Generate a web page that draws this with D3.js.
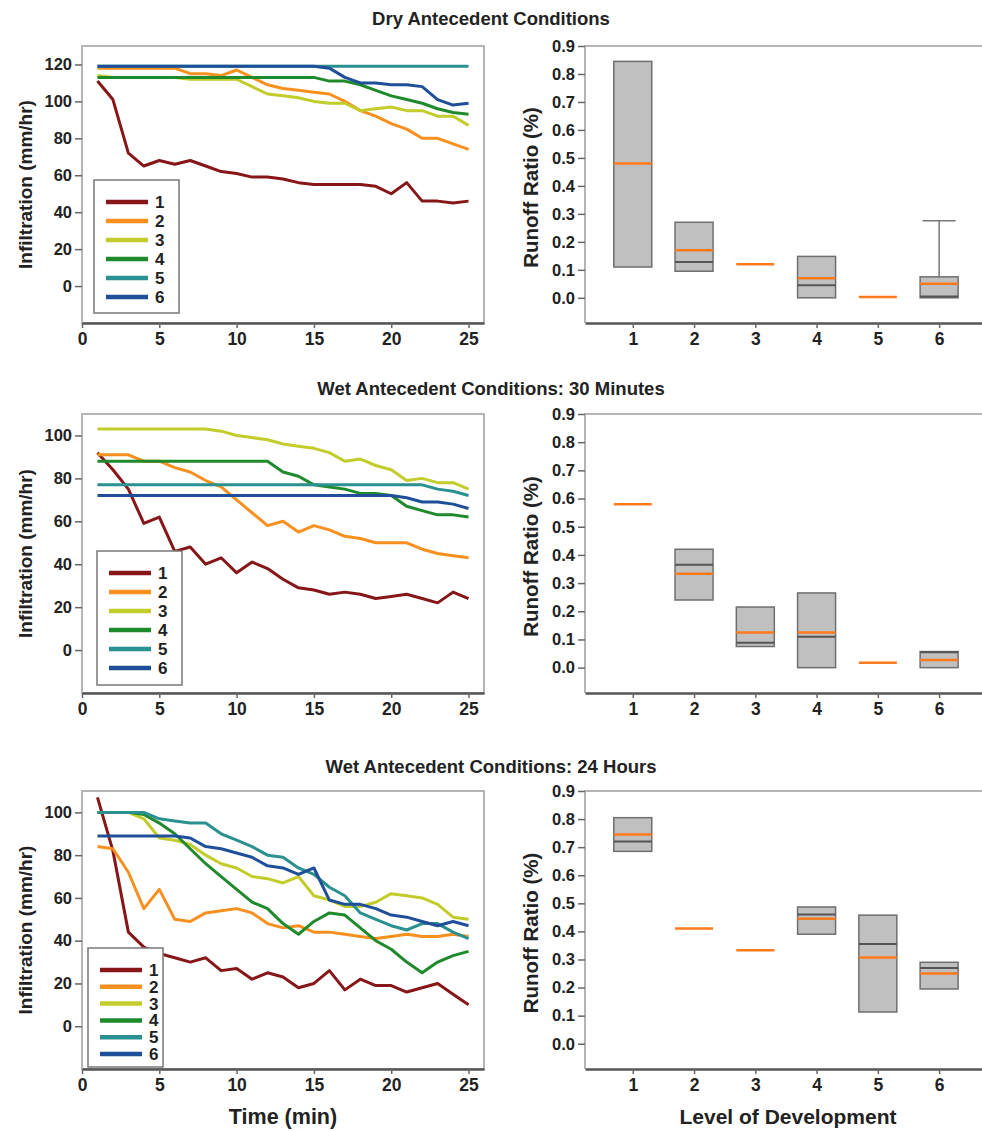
<!DOCTYPE html>
<html>
<head>
<meta charset="utf-8">
<script src="https://cdn.jsdelivr.net/npm/d3@7"></script>
<style>
  body { margin: 0; background: #fff; }
  text { font-family: "Liberation Sans", Arial, sans-serif; font-weight: bold; fill: #222; }
</style>
</head>
<body>
<div id="chart"></div>
<script>
// ---- data ----
const minutes = d3.range(1, 26);
const levels = [1, 2, 3, 4, 5, 6];
const seriesColors = ["#861618", "#f7901e", "#c2cc2a", "#1f8a2c", "#2a9090", "#1f4f98"];

// dry antecedent conditions, infiltration (mm/hr) per minute
const dry1 = [111, 101, 72, 65, 68, 66, 68, 65, 62, 61, 59, 59, 58, 56, 55, 55, 55, 55, 54, 50, 56, 46, 46, 45, 46];
const dry2 = [118, 118, 118, 118, 118, 118, 115, 115, 114, 117, 113, 109, 107, 106, 105, 104, 100, 95, 92, 88, 85, 80, 80, 77, 74];
const dry3 = [114, 113, 113, 113, 113, 113, 112, 112, 112, 112, 108, 104, 103, 102, 100, 99, 99, 95, 96, 97, 95, 95, 92, 92, 87];
const dry4 = [113, 113, 113, 113, 113, 113, 113, 113, 113, 113, 113, 113, 113, 113, 113, 111, 111, 109, 106, 103, 101, 99, 96, 94, 93];
const dry5 = [119, 119, 119, 119, 119, 119, 119, 119, 119, 119, 119, 119, 119, 119, 119, 119, 119, 119, 119, 119, 119, 119, 119, 119, 119];
const dry6 = [119, 119, 119, 119, 119, 119, 119, 119, 119, 119, 119, 119, 119, 119, 119, 118, 113, 110, 110, 109, 109, 108, 101, 98, 99];

// wet antecedent conditions: 30 minutes
const wet30_1 = [92, 84, 75, 59, 62, 46, 48, 40, 43, 36, 41, 38, 33, 29, 28, 26, 27, 26, 24, 25, 26, 24, 22, 27, 24];
const wet30_2 = [91, 91, 91, 88, 88, 85, 83, 79, 76, 70, 64, 58, 60, 55, 58, 56, 53, 52, 50, 50, 50, 47, 45, 44, 43];
const wet30_3 = [103, 103, 103, 103, 103, 103, 103, 103, 102, 100, 99, 98, 96, 95, 94, 92, 88, 89, 86, 84, 79, 80, 78, 78, 75];
const wet30_4 = [88, 88, 88, 88, 88, 88, 88, 88, 88, 88, 88, 88, 83, 81, 77, 76, 75, 73, 73, 72, 67, 65, 63, 63, 62];
const wet30_5 = [77, 77, 77, 77, 77, 77, 77, 77, 77, 77, 77, 77, 77, 77, 77, 77, 77, 77, 77, 77, 77, 77, 75, 74, 72];
const wet30_6 = [72, 72, 72, 72, 72, 72, 72, 72, 72, 72, 72, 72, 72, 72, 72, 72, 72, 72, 72, 72, 71, 69, 69, 68, 66];

// wet antecedent conditions: 24 hours
const wet24_1 = [107, 82, 44, 37, 34, 32, 30, 32, 26, 27, 22, 25, 23, 18, 20, 26, 17, 22, 19, 19, 16, 18, 20, 15, 10];
const wet24_2 = [84, 83, 72, 55, 64, 50, 49, 53, 54, 55, 53, 48, 46, 47, 44, 44, 43, 42, 41, 42, 43, 42, 42, 43, 42];
const wet24_3 = [100, 100, 100, 97, 88, 87, 85, 80, 76, 74, 70, 69, 67, 70, 61, 59, 56, 56, 58, 62, 61, 60, 57, 51, 50];
const wet24_4 = [100, 100, 100, 99, 95, 90, 83, 76, 70, 64, 58, 55, 48, 43, 49, 53, 52, 46, 40, 36, 30, 25, 30, 33, 35];
const wet24_5 = [100, 100, 100, 100, 97, 96, 95, 95, 90, 87, 84, 80, 79, 74, 71, 65, 61, 53, 50, 47, 45, 48, 48, 44, 41];
const wet24_6 = [89, 89, 89, 89, 89, 89, 88, 84, 83, 81, 79, 75, 74, 71, 74, 59, 57, 57, 55, 52, 51, 49, 47, 49, 47];

// runoff ratio box stats per level (null = no box drawn)
const dryBoxLow   = [0.11, 0.095, null, 0.0, null, 0.0];
const dryBoxHigh  = [0.845, 0.27, null, 0.148, null, 0.075];
const dryMedian   = [null, 0.128, null, 0.045, null, 0.005];
const dryMean     = [0.48, 0.17, 0.12, 0.07, 0.003, 0.05];
const dryWhisker  = [null, null, null, null, null, 0.275];

const wet30BoxLow  = [null, 0.24, 0.075, 0.0, null, 0.0];
const wet30BoxHigh = [null, 0.42, 0.215, 0.265, null, 0.057];
const wet30Median  = [null, 0.365, 0.088, 0.11, null, 0.055];
const wet30Mean    = [0.58, 0.333, 0.125, 0.125, 0.017, 0.027];

const wet24BoxLow  = [0.685, null, null, 0.39, 0.113, 0.195];
const wet24BoxHigh = [0.805, null, null, 0.487, 0.458, 0.29];
const wet24Median  = [0.72, null, null, 0.46, 0.355, 0.27];
const wet24Mean    = [0.745, 0.41, 0.333, 0.445, 0.307, 0.25];

const infilTicks = [0, 20, 40, 60, 80, 100, 120];
const ratioTicks = d3.range(0, 10).map(d => d / 10);
const timeTicks = [0, 5, 10, 15, 20, 25];

const rows = [
  { title: "Dry Antecedent Conditions", titleY: 25, top: 46, bottom: 323, yMax: 130,
    lines: [dry1, dry2, dry3, dry4, dry5, dry6], legend: { x: 94, y: 180, w: 85, h: 133, step: 19 },
    box: { low: dryBoxLow, high: dryBoxHigh, med: dryMedian, mean: dryMean, whisk: dryWhisker } },
  { title: "Wet Antecedent Conditions: 30 Minutes", titleY: 395, top: 414, bottom: 693, yMax: 110,
    lines: [wet30_1, wet30_2, wet30_3, wet30_4, wet30_5, wet30_6], legend: { x: 97, y: 551, w: 85, h: 134, step: 19 },
    box: { low: wet30BoxLow, high: wet30BoxHigh, med: wet30Median, mean: wet30Mean, whisk: null } },
  { title: "Wet Antecedent Conditions: 24 Hours", titleY: 773, top: 791, bottom: 1069, yMax: 110,
    lines: [wet24_1, wet24_2, wet24_3, wet24_4, wet24_5, wet24_6], legend: { x: 88, y: 948, w: 75, h: 119, step: 16.8 },
    box: { low: wet24BoxLow, high: wet24BoxHigh, med: wet24Median, mean: wet24Mean, whisk: null } }
];

const width = 982, height = 1131;
const lineLeft = 82, lineRight = 484;
const boxLeft = 585, boxRight = 982;

const svg = d3.select("#chart").append("svg")
  .attr("width", width)
  .attr("height", height);

rows.forEach((row, i) => {
  // title
  svg.append("text")
    .attr("x", 491).attr("y", row.titleY)
    .attr("text-anchor", "middle")
    .style("font-size", "18.5px")
    .text(row.title);

  // ---- infiltration lines ----
  const x = d3.scaleLinear().domain([0, 26]).range([lineLeft, lineRight]);
  const y = d3.scaleLinear().domain([-20, row.yMax]).range([row.bottom, row.top]);

  svg.append("rect")
    .attr("x", lineLeft).attr("y", row.top)
    .attr("width", lineRight - lineLeft).attr("height", row.bottom - row.top)
    .attr("fill", "none").attr("stroke", "#b5b5b5").attr("stroke-width", 2);

  const yAxis = svg.append("g")
    .attr("transform", `translate(${lineLeft},0)`)
    .call(d3.axisLeft(y).tickValues(infilTicks.filter(t => t <= row.yMax)).tickSize(7).tickPadding(3));
  yAxis.select(".domain").remove();

  const xAxis = svg.append("g")
    .attr("transform", `translate(0,${row.bottom})`)
    .call(d3.axisBottom(x).tickValues(timeTicks).tickSize(5).tickPadding(5).tickSizeOuter(0));

  const line = d3.line()
    .x((d, j) => x(minutes[j]))
    .y(d => y(d));

  row.lines.forEach((s, k) => {
    svg.append("path")
      .attr("d", line(s))
      .attr("fill", "none")
      .attr("stroke", seriesColors[k])
      .attr("stroke-width", 3)
      .attr("stroke-linejoin", "round");
  });

  // legend
  const lg = row.legend;
  svg.append("rect")
    .attr("x", lg.x).attr("y", lg.y).attr("width", lg.w).attr("height", lg.h)
    .attr("fill", "#fff").attr("stroke", "#777").attr("stroke-width", 1.5);
  levels.forEach((lv, k) => {
    const ly = lg.y + 22 + k * lg.step;
    svg.append("line")
      .attr("x1", lg.x + 12).attr("x2", lg.x + 54)
      .attr("y1", ly).attr("y2", ly)
      .attr("stroke", seriesColors[k]).attr("stroke-width", 4.5);
    svg.append("text")
      .attr("x", lg.x + 61).attr("y", ly + 6)
      .style("font-size", "17px")
      .text(lv);
  });

  svg.append("text")
    .attr("transform", `translate(32,${(row.top + row.bottom) / 2}) rotate(-90)`)
    .attr("text-anchor", "middle")
    .style("font-size", "19px")
    .text("Infiltration (mm/hr)");

  // ---- runoff ratio boxes ----
  const bx = d3.scaleLinear().domain([0.22, 6.7]).range([boxLeft, boxRight]);
  const by = d3.scaleLinear().domain([-0.09, 0.9]).range([row.bottom, row.top]);
  const half = 0.31;

  svg.append("path")
    .attr("d", `M${boxRight},${row.top}H${boxLeft}V${row.bottom}`)
    .attr("fill", "none").attr("stroke", "#b5b5b5").attr("stroke-width", 2);

  const byAxis = svg.append("g")
    .attr("transform", `translate(${boxLeft},0)`)
    .call(d3.axisLeft(by).tickValues(ratioTicks).tickFormat(d3.format(".1f")).tickSize(7).tickPadding(3));
  byAxis.select(".domain").remove();

  const bxAxis = svg.append("g")
    .attr("transform", `translate(0,${row.bottom})`)
    .call(d3.axisBottom(bx).tickValues(levels).tickFormat(d3.format("d")).tickSize(5).tickPadding(5).tickSizeOuter(0));

  const b = row.box;
  levels.forEach((lv, k) => {
    const x0 = bx(lv - half), x1 = bx(lv + half);
    if (b.whisk && b.whisk[k] != null) {
      svg.append("line")
        .attr("x1", bx(lv)).attr("x2", bx(lv))
        .attr("y1", by(b.high[k])).attr("y2", by(b.whisk[k]))
        .attr("stroke", "#777").attr("stroke-width", 1.5);
      svg.append("line")
        .attr("x1", bx(lv - 0.27)).attr("x2", bx(lv + 0.27))
        .attr("y1", by(b.whisk[k])).attr("y2", by(b.whisk[k]))
        .attr("stroke", "#777").attr("stroke-width", 1.5);
    }
    if (b.low[k] != null) {
      svg.append("rect")
        .attr("x", x0).attr("y", by(b.high[k]))
        .attr("width", x1 - x0).attr("height", by(b.low[k]) - by(b.high[k]))
        .attr("fill", "#c0c0c0").attr("stroke", "#6e6e6e").attr("stroke-width", 1.5);
    }
    if (b.med[k] != null) {
      svg.append("line")
        .attr("x1", x0).attr("x2", x1)
        .attr("y1", by(b.med[k])).attr("y2", by(b.med[k]))
        .attr("stroke", "#555").attr("stroke-width", 2);
    }
    svg.append("line")
      .attr("x1", x0).attr("x2", x1)
      .attr("y1", by(b.mean[k])).attr("y2", by(b.mean[k]))
      .attr("stroke", "#ff7a1c").attr("stroke-width", 2.5);
  });

  svg.append("text")
    .attr("transform", `translate(538,${(row.top + row.bottom) / 2 + 3}) rotate(-90)`)
    .attr("text-anchor", "middle")
    .style("font-size", "20.5px")
    .text("Runoff Ratio (%)");

  // axis styling
  [yAxis, byAxis].forEach(g => {
    g.selectAll("text").style("font-size", "16.5px").attr("fill", "#222");
  });
  [yAxis, xAxis, byAxis, bxAxis].forEach(g => {
    g.selectAll(".tick line").attr("stroke", "#666").attr("stroke-width", 1.5);
  });
  [xAxis, bxAxis].forEach(g => {
    g.select(".domain").attr("stroke", "#555").attr("stroke-width", 2.5);
    g.selectAll("text").style("font-size", "17.5px").attr("fill", "#222");
  });
});

svg.append("text")
  .attr("x", 283).attr("y", 1124)
  .attr("text-anchor", "middle")
  .style("font-size", "21.5px")
  .text("Time (min)");

svg.append("text")
  .attr("x", 788).attr("y", 1124)
  .attr("text-anchor", "middle")
  .style("font-size", "21px")
  .text("Level of Development");
</script>
</body>
</html>
